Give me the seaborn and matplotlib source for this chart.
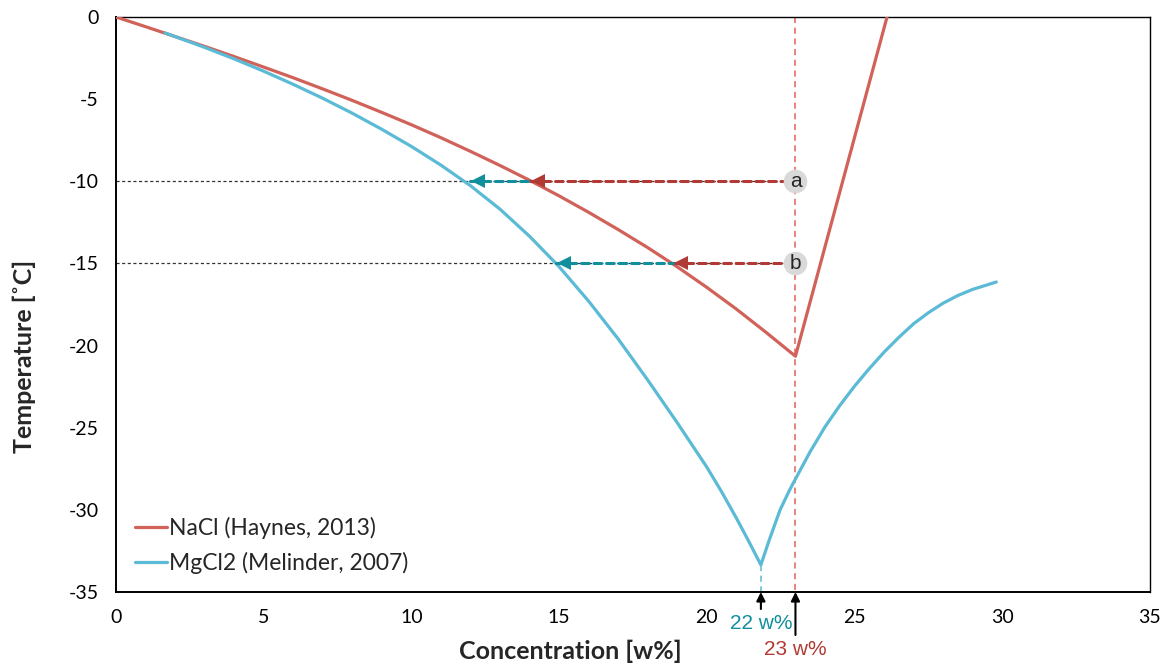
import matplotlib
matplotlib.use("Agg")
import matplotlib.pyplot as plt
import numpy as np
import pandas as pd
import seaborn as sns

# freezing point curves
nacl_conc = [0, 1, 2, 3, 4, 5, 6, 7, 8, 9, 10, 11, 12, 13, 14, 15, 16, 17,
             18, 19, 20, 21, 22, 23.0, 26.1]
nacl_temp = [0, -0.59, -1.19, -1.79, -2.41, -3.05, -3.70, -4.38, -5.08, -5.81,
             -6.56, -7.35, -8.18, -9.04, -9.94, -10.89, -11.89, -12.94, -14.04,
             -15.21, -16.46, -17.78, -19.19, -20.65, 0]

mgcl2_conc = [1.66, 3, 4, 5, 6, 7, 8, 9, 10, 11, 12, 13, 14, 15, 16, 17, 18,
              19, 20, 20.5, 21, 21.4, 21.83, 22.1, 22.48, 22.8, 23, 23.5, 24,
              24.5, 25, 25.5, 26, 26.5, 27, 27.5, 28, 28.5, 29, 29.5, 29.8]
mgcl2_temp = [-0.97, -1.85, -2.55, -3.3, -4.1, -4.95, -5.86, -6.84, -7.88,
              -9.02, -10.27, -11.7, -13.35, -15.2, -17.3, -19.6, -22.1, -24.7,
              -27.4, -28.9, -30.5, -31.85, -33.35, -31.9, -30.0, -28.8, -28.12,
              -26.45, -24.95, -23.65, -22.47, -21.4, -20.4, -19.5, -18.67,
              -18.0, -17.42, -16.95, -16.58, -16.3, -16.13]

nacl_label = "NaCl (Haynes, 2013)"
mgcl2_label = "MgCl2 (Melinder, 2007)"

# reading examples: target temperature, NaCl and MgCl2 concentrations
read_temps = [-10, -15]
read_names = ["a", "b"]
read_nacl = [14.0, 18.85]
read_mgcl2 = [11.98, 14.9]
eut_nacl = 23.0
eut_mgcl2 = 21.83
eut_mgcl2_temp = -33.35

nacl_col = "#D0625A"
mgcl2_col = "#5BBAD5"
red_dark = "#B23A34"
teal_dark = "#118F9D"

df = pd.concat([
    pd.DataFrame({"conc": nacl_conc, "temp": nacl_temp, "salt": nacl_label}),
    pd.DataFrame({"conc": mgcl2_conc, "temp": mgcl2_temp, "salt": mgcl2_label}),
])

sns.set_style("white")
plt.rcParams["font.family"] = ["Lato", "DejaVu Sans"]
plt.rcParams["axes.unicode_minus"] = False

fig = plt.figure(figsize=(11.67, 6.66), dpi=100)
ax = fig.add_axes([0.0994, 0.1111, 0.886, 0.8634])

sns.lineplot(data=df, x="conc", y="temp", hue="salt", sort=False, estimator=None,
             palette={nacl_label: nacl_col, mgcl2_label: mgcl2_col},
             linewidth=2.3, ax=ax, zorder=3)

# vertical guide lines
ax.plot([eut_nacl, eut_nacl], [0, -35], color="#E0605A", lw=1.1,
        dashes=(4, 3), zorder=2)
ax.plot([eut_mgcl2, eut_mgcl2], [eut_mgcl2_temp, -35], color=mgcl2_col, lw=1.1,
        dashes=(4, 3), zorder=2)

for t, name, xn, xm in zip(read_temps, read_names, read_nacl, read_mgcl2):
    ax.plot([0, eut_nacl], [t, t], color="#333333", lw=0.9, dashes=(2.5, 2),
            zorder=2)
    ax.plot([xn, eut_nacl], [t, t], color=red_dark, lw=2.2, dashes=(2.5, 1.6),
            dash_capstyle="round", zorder=4)
    ax.plot([xm, xn], [t, t], color=teal_dark, lw=2.2, dashes=(2.5, 1.6),
            dash_capstyle="round", zorder=4)
    ax.plot([xn + 0.27], [t], marker="<", color=red_dark, ms=10, mew=0,
            zorder=5)
    ax.plot([xm + 0.27], [t], marker="<", color=teal_dark, ms=10, mew=0,
            zorder=5)
    ax.plot([eut_nacl], [t], marker="o", color="#D9D9D9", ms=17, mew=0,
            zorder=6)
    ax.text(eut_nacl, t, name, ha="center", va="center", fontsize=15,
            family=["Liberation Sans"], zorder=7)

# arrows under the x axis
xt = ax.get_xaxis_transform()
ax.annotate("", xy=(eut_mgcl2, 0), xycoords=xt, xytext=(0, -17),
            textcoords="offset pixels", annotation_clip=False,
            arrowprops=dict(arrowstyle="-|>", color="black", lw=1.5,
                            mutation_scale=13, shrinkA=0, shrinkB=0))
ax.annotate("", xy=(eut_nacl, 0), xycoords=xt, xytext=(0, -43),
            textcoords="offset pixels", annotation_clip=False,
            arrowprops=dict(arrowstyle="-|>", color="black", lw=1.5,
                            mutation_scale=13, shrinkA=0, shrinkB=0))
ax.annotate("22 w%", xy=(eut_mgcl2, 0), xycoords=xt, xytext=(0, -31),
            textcoords="offset pixels", ha="center", va="center",
            color=teal_dark, fontsize=15, family=["Liberation Sans"],
            annotation_clip=False)
ax.annotate("23 w%", xy=(eut_nacl, 0), xycoords=xt, xytext=(0, -57),
            textcoords="offset pixels", ha="center", va="center",
            color=red_dark, fontsize=15, family=["Liberation Sans"],
            annotation_clip=False)

ax.set_xlim(0, 35)
ax.set_ylim(-35, 0)
ax.set_xticks(np.arange(0, 36, 5))
ax.set_yticks(np.arange(-35, 1, 5))
ax.tick_params(direction="inout", length=11, width=1.3, labelsize=14,
               colors="black", pad=7)
for s in ax.spines.values():
    s.set_color("black")
    s.set_linewidth(1.4)
for s in ["top", "right"]:
    ax.spines[s].set_linewidth(1.0)

ax.set_xlabel("Concentration [w%]", fontsize=18, fontweight="bold")
ax.set_ylabel("Temperature [˚C]", fontsize=18, fontweight="bold")
ax.xaxis.set_label_coords(0.439, -0.083)
ax.yaxis.set_label_coords(-0.077, 0.41)

leg = ax.legend(loc="lower left", bbox_to_anchor=(-0.002, -0.004), frameon=False,
                fontsize=16.5, handlelength=1.4, handletextpad=0.1,
                labelspacing=0.55)
for line in leg.get_lines():
    line.set_linewidth(2.3)

fig.savefig("out.png", dpi=100)
